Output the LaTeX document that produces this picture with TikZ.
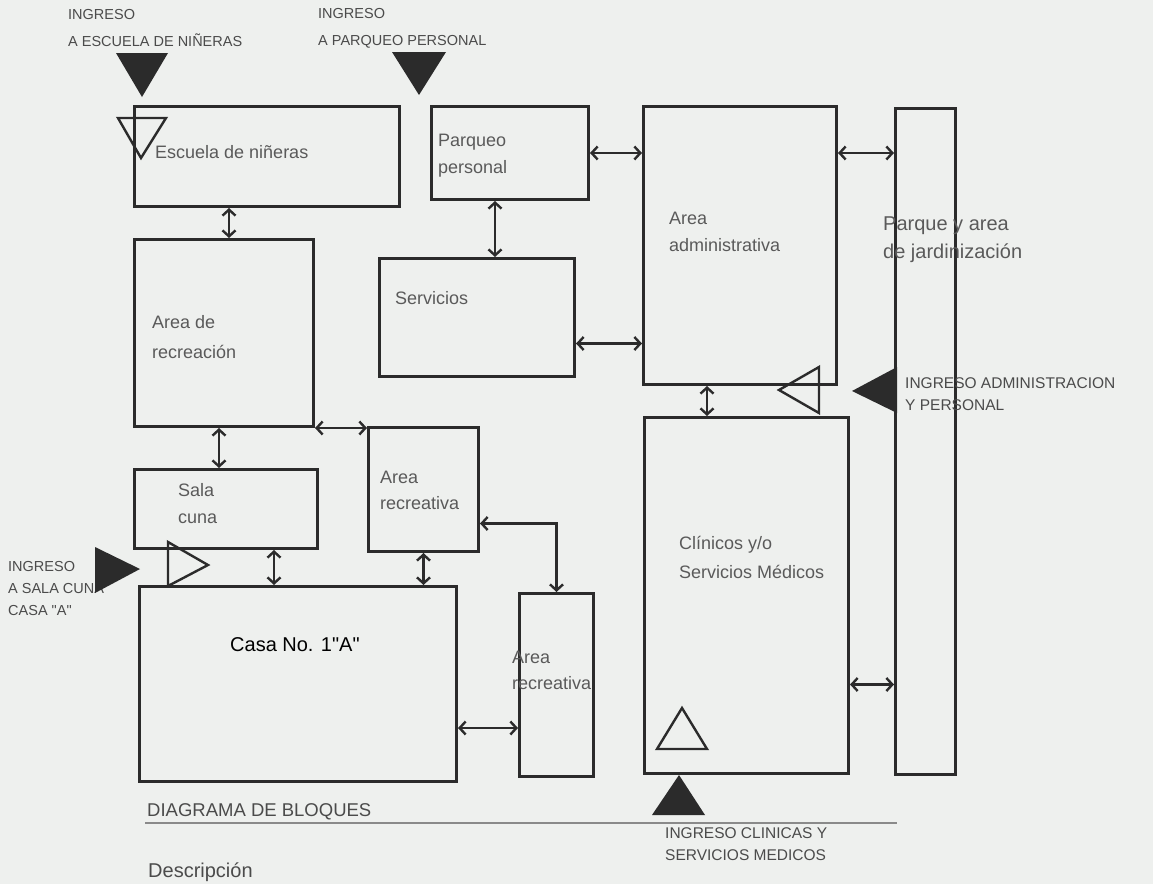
\documentclass[tikz,border=0pt]{standalone}
\usepackage{fontspec}
\setmainfont{Liberation Sans}[Ligatures=TeXOff]
\usetikzlibrary{arrows.meta,positioning}
\definecolor{PlanInk}{HTML}{2B2B2B}
\definecolor{PlanText}{HTML}{5A5A5A}
\definecolor{PlanPaper}{HTML}{EEF0EE}
\definecolor{PlanRule}{HTML}{8A8A8A}

\begin{document}
\begin{tikzpicture}[
  x=1pt,y=-1pt,
  block/.style={draw=PlanInk,line width=3pt,inner sep=0pt,anchor=north west},
  blocktxt/.style={text=PlanText,font=\fontsize{18}{27}\selectfont,align=left,anchor=west,inner sep=0pt},
  entry/.style={text=PlanInk!85,font=\fontsize{14.5}{22}\selectfont,align=left,anchor=west,inner sep=0pt},
  titletxt/.style={text=PlanInk!85,font=\fontsize{18.5}{22}\selectfont,anchor=west,inner sep=0pt},
  link/.style={{Straight Barb[length=6pt,width=13pt]}-{Straight Barb[length=6pt,width=13pt]},line width=2.4pt,draw=PlanInk},
  gate/.style={fill=PlanInk},
  opengate/.style={draw=PlanInk,line width=2.4pt,line join=miter}
]
\useasboundingbox (0,0) rectangle (1153,884);
\fill[PlanPaper] (0,0) rectangle (1153,884);

% blocks
\node[block,minimum width=265,minimum height=100] (escuela) at (133,105) {};
\node[block,minimum width=157,minimum height=93] (parqueo) at (430,105) {};
\node[block,minimum width=195,minimum height=118] (servicios) at (378,257) {};
\node[block,minimum width=193,minimum height=278] (admin) at (642,105) {};
\node[block,minimum width=60,minimum height=666] (parque) at (894,107) {};
\node[block,minimum width=179,minimum height=187] (recre) at (133,238) {};
\node[block,minimum width=183,minimum height=79] (sala) at (133,468) {};
\node[block,minimum width=110,minimum height=124] (areaA) at (367,426) {};
\node[block,minimum width=317,minimum height=195] (casa) at (138,585) {};
\node[block,minimum width=74,minimum height=183] (areaB) at (518,592) {};
\node[block,minimum width=204,minimum height=356] (clinicos) at (643,416) {};

% block names
\node[blocktxt] (escuelaTxt) at (155,152) {Escuela de niñeras};
\node[blocktxt] (parqueoTxt) at (438,156) {Parqueo\\personal};
\node[blocktxt] (serviciosTxt) at (395,298) {Servicios};
\node[blocktxt] (adminTxt) at (669,232) {Area\\administrativa};
\node[blocktxt,font=\fontsize{20}{28}\selectfont] (parqueTxt) at (883,240) {Parque y area\\de jardinización};
\node[blocktxt,font=\fontsize{18}{30}\selectfont] (recreTxt) at (152,337) {Area de\\recreación};
\node[blocktxt] (salaTxt) at (178,504) {Sala\\cuna};
\node[blocktxt,font=\fontsize{18}{26}\selectfont] (areaATxt) at (380,490) {Area\\recreativa};
\node[blocktxt,text=black,font=\fontsize{20}{24}\selectfont] (casaTxt) at (230,645) {Casa No. 1"A"};
\node[blocktxt,font=\fontsize{18}{26}\selectfont] (areaBTxt) at (512,670) {Area\\recreativa};
\node[blocktxt,font=\fontsize{18}{29}\selectfont] (clinicosTxt) at (679,557) {Clínicos y/o\\Servicios Médicos};

% entrances
\node[entry] (inEscuela) at (68,28) {INGRESO\\[5pt]A ESCUELA DE NIÑERAS};
\node[entry] (inParqueo) at (318,28) {INGRESO\\[5pt]A PARQUEO PERSONAL};
\node[entry] (inSala) at (8,588) {INGRESO\\A SALA CUNA\\CASA "A"};
\node[entry,font=\fontsize{15.5}{22}\selectfont] (inAdmin) at (905,394) {INGRESO ADMINISTRACION\\Y PERSONAL};
\node[entry,font=\fontsize{15.5}{22}\selectfont] (inClinicos) at (665,844) {INGRESO CLINICAS Y\\SERVICIOS MEDICOS};
\node[titletxt] (titulo) at (147,812) {DIAGRAMA DE BLOQUES};
\node[titletxt,font=\fontsize{20}{22}\selectfont] (desc) at (148,872) {Descripción};
\draw[PlanRule,line width=1.5pt] (145,823) -- (897,823);

% entrance marks
\fill[gate] (116,53) -- (168,53) -- (142,97) -- cycle;
\fill[gate] (392,52) -- (446,52) -- (419,95) -- cycle;
\fill[gate] (95,547) -- (95,593) -- (140,569) -- cycle;
\fill[gate] (897,367) -- (897,413) -- (852,391) -- cycle;
\fill[gate] (652,815) -- (705,815) -- (679,775) -- cycle;
\draw[opengate] (118,118) -- (166,118) -- (141,158) -- cycle;
\draw[opengate] (168,542) -- (168,586) -- (208,565) -- cycle;
\draw[opengate] (819,367) -- (819,413) -- (779,390) -- cycle;
\draw[opengate] (657,749) -- (707,749) -- (682,708) -- cycle;

% links
\draw[link] ([xshift=5pt]recre.north |- escuela.south) -- ([xshift=5pt]recre.north);
\draw[link] ([xshift=-5pt]recre.south) -- ([xshift=-5pt]recre.south |- sala.north);
\draw[link] (recre.south east) -- (recre.south east -| areaA.west);
\draw[link] ([xshift=48pt]sala.south) -- ([xshift=48pt]sala.south |- casa.north);
\draw[link] (areaA.south) -- (areaA.south |- casa.north);
\draw[link] ([yshift=-34pt]areaA.east) -| (areaB.north);
\draw[link] ([yshift=-44pt]casa.east) -- ([yshift=-44pt]casa.east -| areaB.west);
\draw[link] ([xshift=-15pt]parqueo.south) -- ([xshift=-15pt]parqueo.south |- servicios.north);
\draw[link] (parqueo.east) -- (parqueo.east -| admin.west);
\draw[link] ([yshift=-26pt]servicios.east) -- ([yshift=-26pt]servicios.east -| admin.west);
\draw[link] (admin.east |- parqueo.east) -- (parque.west |- parqueo.east);
\draw[link] ([xshift=-33pt]admin.south) -- ([xshift=-33pt]admin.south |- clinicos.north);
\draw[link] ([yshift=-89pt]clinicos.east) -- ([yshift=-89pt]clinicos.east -| parque.west);
\end{tikzpicture}
\end{document}
